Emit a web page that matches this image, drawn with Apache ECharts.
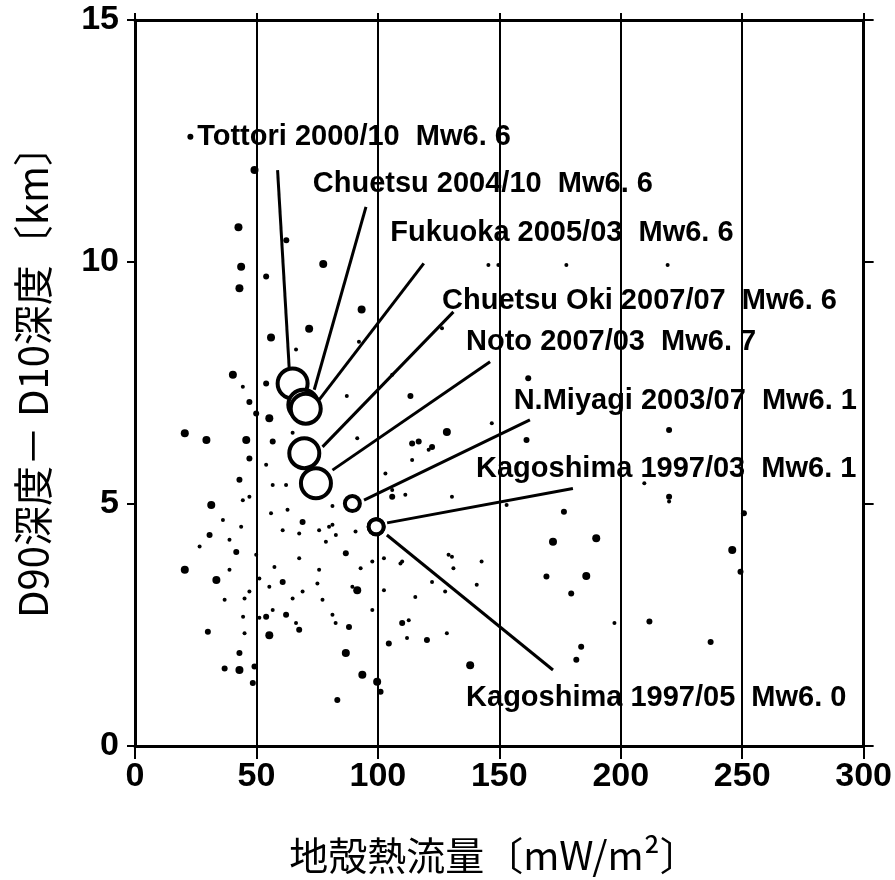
<!DOCTYPE html>
<html>
<head>
<meta charset="utf-8">
<script src="https://cdn.jsdelivr.net/npm/echarts@6/dist/echarts.min.js"></script>
<style>
  html, body { margin: 0; padding: 0; background: #fff; }
  #chart { width: 895px; height: 880px; }
</style>
</head>
<body>
<div id="chart"></div>
<script>
// Axis ticks
const xTicks = [0, 50, 100, 150, 200, 250, 300];
const yTicks = [0, 5, 10, 15];

// Background earthquakes: [surface heat flow (mW/m2), D90 - D10 depth (km)]
const quakesLarge = [
  [49.2, 11.90], [42.6, 10.72], [43.7, 9.90], [77.5, 9.96], [43.0, 9.46], [71.7, 8.62],
  [56.0, 8.44], [93.3, 9.02], [40.3, 7.67], [55.3, 6.77], [128.4, 6.49], [20.5, 6.46],
  [29.4, 6.32], [45.8, 6.32], [31.4, 4.98], [20.5, 3.64], [33.5, 3.43], [91.5, 3.22],
  [55.3, 2.29], [86.8, 1.92], [43.0, 1.57], [93.6, 1.47], [99.7, 1.33], [138.0, 1.67],
  [172.1, 4.22], [189.9, 4.29], [185.8, 3.51], [245.9, 4.05]
];
const quakesMedium = [
  [22.8, 12.59], [62.3, 10.45], [54.0, 9.70], [54.0, 7.49], [47.1, 7.11], [49.9, 6.87],
  [113.4, 7.23], [56.7, 6.29], [47.1, 5.94], [43.0, 5.50], [114.1, 6.25], [122.3, 6.18],
  [69.0, 4.63], [30.7, 4.36], [86.8, 3.98], [41.7, 4.01], [60.8, 3.39], [88.1, 2.46],
  [62.2, 2.71], [67.6, 2.40], [54.0, 2.67], [30.0, 2.36], [104.5, 2.12], [110.0, 2.54],
  [120.2, 2.19], [43.0, 1.92], [36.9, 1.60], [49.2, 1.64], [48.5, 1.30], [83.3, 0.95],
  [101.1, 1.12], [176.6, 4.84], [169.4, 3.50], [179.6, 3.15], [211.8, 2.57], [237.0, 2.15],
  [249.3, 3.60], [250.7, 4.81], [183.7, 2.05], [181.7, 1.78], [161.9, 7.60], [219.9, 6.53],
  [161.2, 6.32], [219.9, 5.15], [116.8, 6.29], [105.9, 5.15]
];
const quakesSmall = [
  [66.3, 8.19], [92.2, 8.35], [44.4, 7.42], [87.2, 7.23], [105.9, 7.67], [126.4, 8.63],
  [145.5, 9.94], [64.9, 6.47], [91.5, 6.36], [54.0, 5.81], [47.1, 5.15], [56.7, 5.39],
  [103.1, 5.63], [114.1, 5.91], [120.9, 6.12], [111.3, 5.19], [130.5, 5.15], [146.9, 6.67],
  [105.9, 5.29], [62.2, 5.39], [44.4, 5.08], [56.0, 4.81], [62.8, 4.88], [81.3, 4.96],
  [81.3, 4.57], [36.2, 4.67], [43.7, 4.53], [60.8, 4.46], [67.6, 4.39], [75.8, 4.46],
  [82.7, 4.36], [79.9, 4.53], [78.6, 4.22], [90.8, 4.43], [26.6, 4.12], [38.9, 4.26],
  [49.9, 3.95], [38.9, 3.64], [67.6, 3.88], [57.4, 3.70], [51.2, 3.46], [75.8, 3.64],
  [75.1, 3.36], [92.9, 3.67], [97.7, 3.81], [102.5, 3.88], [109.3, 3.77], [102.5, 3.22],
  [45.1, 3.05], [36.9, 3.02], [64.9, 3.05], [77.2, 3.02], [81.3, 2.71], [56.7, 2.81],
  [44.5, 2.67], [45.1, 2.33], [97.7, 2.81], [115.4, 3.08], [112.7, 2.60], [128.4, 2.33],
  [130.5, 3.91], [142.7, 3.81], [122.3, 3.39], [197.4, 2.54], [219.9, 5.05], [209.7, 5.43],
  [219.3, 9.94], [177.6, 9.94], [149.6, 9.94], [153.0, 4.98], [129.1, 3.95], [110.0, 3.81],
  [112.0, 2.23], [131.1, 3.67], [127.7, 3.19], [140.7, 3.33], [47.1, 3.19], [55.3, 3.29],
  [69.0, 3.19], [51.2, 2.65], [66.3, 2.54], [82.6, 2.54], [89.5, 3.29]
];

// Named earthquakes
const eventNames = [
  'Tottori 2000/10  Mw6. 6', 'Chuetsu 2004/10  Mw6. 6', 'Fukuoka 2005/03  Mw6. 6',
  'Chuetsu Oki 2007/07  Mw6. 6', 'Noto 2007/03  Mw6. 7', 'N.Miyagi 2003/07  Mw6. 1',
  'Kagoshima 1997/03  Mw6. 1', 'Kagoshima 1997/05  Mw6. 0'
];
const eventMw = [6.6, 6.6, 6.6, 6.6, 6.7, 6.1, 6.1, 6.0];
const eventHeatFlow = [64.9, 69.3, 70.3, 69.7, 74.5, 89.5, 99.3, 99.3];
const eventDepthRange = [7.49, 7.05, 6.97, 6.05, 5.43, 5.01, 4.53, 4.53];

// Label anchors (left edge / vertical centre of each caption, in axis units)
const labelAnchors = [
  [25.4, 12.58], [73.0, 11.61], [104.9, 10.60], [126.2, 9.19],
  [136.1, 8.35], [155.7, 7.13], [140.2, 5.72], [136.1, 0.99]
];
// Leader lines: caption end -> event circle
const leaderLines = [
  [[58.7, 11.90], [63.5, 7.80]],
  [[95.1, 11.14], [73.8, 7.36]],
  [[118.9, 9.97], [75.8, 7.15]],
  [[131.1, 8.97], [77.2, 6.18]],
  [[146.2, 7.94], [81.3, 5.70]],
  [[162.6, 6.74], [94.3, 5.08]],
  [[180.3, 5.32], [103.8, 4.61]],
  [[103.7, 4.36], [172.1, 1.57]]
];

const chart = echarts.init(document.getElementById('chart'), null, { renderer: 'canvas' });

const tickFont = { fontFamily: 'Liberation Sans', fontWeight: 'bold', fontSize: 34, color: '#000' };

const dotSeries = (data, size) => ({
  type: 'scatter', data, symbol: 'circle', symbolSize: size, z: 3,
  itemStyle: { color: '#000', opacity: 1 }, silent: true
});

const leaderSeries = leaderLines.map(seg => ({
  type: 'line', data: seg, symbol: 'none', z: 4, silent: true,
  lineStyle: { color: '#000', width: 3, opacity: 1 }
}));

const option = {
  animation: false,
  backgroundColor: '#fff',
  grid: { left: 135, right: 28, top: 20, bottom: 134 },
  xAxis: [
    {
      type: 'value', position: 'bottom', min: 0, max: 300, interval: 50,
      axisLine: { show: true, onZero: false, lineStyle: { color: '#000', width: 3 } },
      axisTick: { show: true, inside: false, length: 13, lineStyle: { color: '#000', width: 2 } },
      axisLabel: Object.assign({ margin: 14, formatter: v => xTicks.includes(v) ? String(v) : '' }, tickFont),
      splitLine: { show: true, lineStyle: { color: '#000', width: 2 } }
    },
    {
      type: 'value', position: 'top', min: 0, max: 300, interval: 50,
      axisLine: { show: true, onZero: false, lineStyle: { color: '#000', width: 3 } },
      axisTick: { show: true, inside: false, length: 7, lineStyle: { color: '#000', width: 2 } },
      axisLabel: { show: false }, splitLine: { show: false }
    }
  ],
  yAxis: [
    {
      type: 'value', position: 'left', min: 0, max: 15, interval: 5,
      axisLine: { show: true, onZero: false, lineStyle: { color: '#000', width: 3 } },
      axisTick: { show: true, inside: false, length: 8, lineStyle: { color: '#000', width: 2 } },
      axisLabel: Object.assign({ margin: 16, formatter: v => yTicks.includes(v) ? String(v) : '' }, tickFont),
      splitLine: { show: false }
    },
    {
      type: 'value', position: 'right', min: 0, max: 15, interval: 5,
      axisLine: { show: true, onZero: false, lineStyle: { color: '#000', width: 3 } },
      axisTick: { show: true, inside: false, length: 10, lineStyle: { color: '#000', width: 2 } },
      axisLabel: { show: false }, splitLine: { show: false }
    }
  ],
  series: [
    dotSeries(quakesSmall, 4),
    dotSeries(quakesMedium, 6),
    dotSeries(quakesLarge, 8),
    ...leaderSeries,
    {
      type: 'scatter', z: 5, silent: true,
      data: eventHeatFlow.map((x, i) => [x, eventDepthRange[i], eventMw[i]]),
      symbol: 'circle',
      symbolSize: d => d[2] >= 6.5 ? 30 : 15,
      itemStyle: { color: '#fff', borderColor: '#000', borderWidth: 4, opacity: 1 }
    },
    {
      type: 'scatter', z: 6, silent: true,
      data: labelAnchors.map((p, i) => ({ name: eventNames[i], value: p })),
      symbolSize: 1, itemStyle: { color: 'rgba(0,0,0,0)', opacity: 1 },
      label: {
        show: true, position: 'right', distance: 0, formatter: '{b}',
        fontFamily: 'Liberation Sans', fontWeight: 'bold', fontSize: 29, color: '#000', opacity: 1
      }
    }
  ],
  graphic: [
    {
      type: 'text', x: 494, y: 855,
      style: {
        text: '地殻熱流量〔mW/m²〕', fill: '#000',
        font: '39px "Noto Sans CJK JP"', textAlign: 'center', textVerticalAlign: 'middle'
      }
    },
    {
      type: 'text', x: 33, y: 372, rotation: Math.PI / 2,
      style: {
        text: 'D90深度－ D10深度〔km〕', fill: '#000',
        font: '40px "Noto Sans CJK JP"', textAlign: 'center', textVerticalAlign: 'middle'
      }
    }
  ]
};

chart.setOption(option);
</script>
</body>
</html>
